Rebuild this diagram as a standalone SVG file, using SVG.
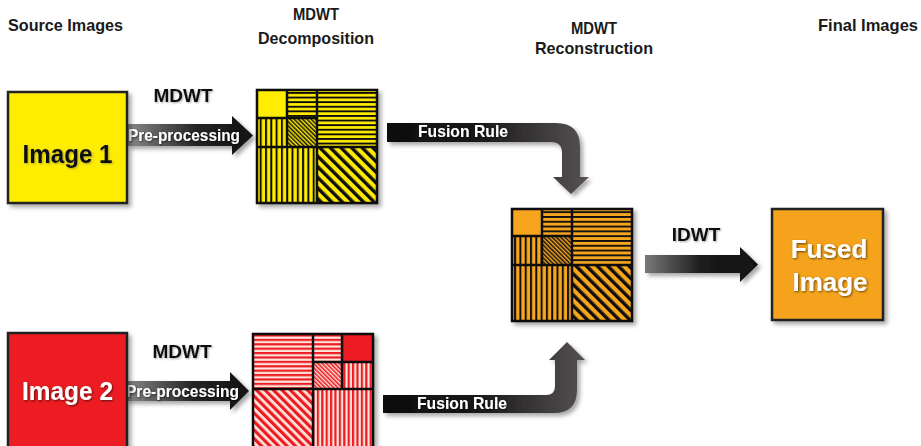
<svg xmlns="http://www.w3.org/2000/svg" width="921" height="446" viewBox="0 0 921 446">
  <style>
    .hdr { font-family: "Liberation Sans", Arial, sans-serif; font-weight: bold; font-size: 17px; fill: #1a1a1a; }
    .lbl { font-family: "Liberation Sans", Arial, sans-serif; font-weight: bold; font-size: 19px; fill: #111; }
    .atx { font-family: "Liberation Sans", Arial, sans-serif; font-weight: bold; font-size: 16.5px; fill: #fff; }
    .big { font-family: "Liberation Sans", Arial, sans-serif; font-weight: bold; font-size: 26px; }
    .box { stroke: #222; stroke-width: 2.5; }
    .grid { fill: none; stroke: #111; stroke-width: 2.5; }
  </style>
  <defs>
    <filter id="shadow" x="-20%" y="-20%" width="150%" height="150%">
      <feDropShadow dx="3" dy="3" stdDeviation="2" flood-color="#000" flood-opacity="0.35"/>
    </filter>
    <filter id="tshadow" x="-10%" y="-20%" width="130%" height="150%">
      <feDropShadow dx="1" dy="1" stdDeviation="1" flood-color="#000" flood-opacity="0.6"/>
    </filter>
    <filter id="tglow" x="-10%" y="-20%" width="130%" height="150%">
      <feDropShadow dx="1" dy="1" stdDeviation="1" flood-color="#555" flood-opacity="0.5"/>
    </filter>

    <!-- yellow / black hatches -->
    <pattern id="yH" patternUnits="userSpaceOnUse" width="10" height="4.6">
      <rect width="10" height="4.6" fill="#FFEB00"/><rect y="0" width="10" height="1.9" fill="#111"/>
    </pattern>
    <pattern id="yV" patternUnits="userSpaceOnUse" width="5.3" height="10">
      <rect width="5.3" height="10" fill="#FFEB00"/><rect x="0" width="2" height="10" fill="#111"/>
    </pattern>
    <pattern id="yD" patternUnits="userSpaceOnUse" width="7.5" height="10" patternTransform="rotate(-45)">
      <rect width="7.5" height="10" fill="#FFEB00"/><rect width="3.4" height="10" fill="#111"/>
    </pattern>
    <pattern id="yF" patternUnits="userSpaceOnUse" width="3" height="10" patternTransform="rotate(-45)">
      <rect width="3" height="10" fill="#FFEB00"/><rect width="1.5" height="10" fill="#111"/>
    </pattern>

    <!-- orange / black hatches -->
    <pattern id="oH" patternUnits="userSpaceOnUse" width="10" height="4.8">
      <rect width="10" height="4.8" fill="#F7A51E"/><rect width="10" height="1.9" fill="#111"/>
    </pattern>
    <pattern id="oV" patternUnits="userSpaceOnUse" width="5.3" height="10">
      <rect width="5.3" height="10" fill="#F7A51E"/><rect width="2" height="10" fill="#111"/>
    </pattern>
    <pattern id="oD" patternUnits="userSpaceOnUse" width="7.5" height="10" patternTransform="rotate(-45)">
      <rect width="7.5" height="10" fill="#F7A51E"/><rect width="3.4" height="10" fill="#111"/>
    </pattern>
    <pattern id="oF" patternUnits="userSpaceOnUse" width="3" height="10" patternTransform="rotate(-45)">
      <rect width="3" height="10" fill="#F7A51E"/><rect width="1.5" height="10" fill="#111"/>
    </pattern>

    <!-- red / white hatches -->
    <pattern id="rH" patternUnits="userSpaceOnUse" width="10" height="4.4">
      <rect width="10" height="4.4" fill="#FFE4DC"/><rect width="10" height="2.2" fill="#EC1C24"/>
    </pattern>
    <pattern id="rV" patternUnits="userSpaceOnUse" width="4.4" height="10">
      <rect width="4.4" height="10" fill="#FFE4DC"/><rect width="2.2" height="10" fill="#EC1C24"/>
    </pattern>
    <pattern id="rD" patternUnits="userSpaceOnUse" width="6" height="10" patternTransform="rotate(-45)">
      <rect width="6" height="10" fill="#FFE4DC"/><rect width="3.2" height="10" fill="#EC1C24"/>
    </pattern>
    <pattern id="rF" patternUnits="userSpaceOnUse" width="3" height="10" patternTransform="rotate(-45)">
      <rect width="3" height="10" fill="#FFE4DC"/><rect width="1.6" height="10" fill="#EC1C24"/>
    </pattern>

    <!-- arrow fills -->
    <linearGradient id="gPre1" gradientUnits="userSpaceOnUse" x1="127" y1="0" x2="253" y2="0">
      <stop offset="0" stop-color="#8c8a8a"/><stop offset="0.55" stop-color="#262424"/><stop offset="1" stop-color="#111"/>
    </linearGradient>
    <linearGradient id="gPre2" gradientUnits="userSpaceOnUse" x1="125" y1="0" x2="249" y2="0">
      <stop offset="0" stop-color="#8c8a8a"/><stop offset="0.55" stop-color="#262424"/><stop offset="1" stop-color="#111"/>
    </linearGradient>
    <linearGradient id="gFus" gradientUnits="userSpaceOnUse" x1="387" y1="0" x2="590" y2="0">
      <stop offset="0" stop-color="#0e0e0e"/><stop offset="0.45" stop-color="#1a1919"/><stop offset="1" stop-color="#575353"/>
    </linearGradient>
    <linearGradient id="gIdwt" gradientUnits="userSpaceOnUse" x1="645" y1="0" x2="758" y2="0">
      <stop offset="0" stop-color="#7a7878"/><stop offset="0.5" stop-color="#1c1b1b"/><stop offset="1" stop-color="#111"/>
    </linearGradient>
  </defs>

  <!-- column headings -->
  <g id="headings">
    <text class="hdr" x="8" y="31" textLength="115" lengthAdjust="spacingAndGlyphs">Source Images</text>
    <text class="hdr" x="316" y="20" text-anchor="middle" textLength="46" lengthAdjust="spacingAndGlyphs">MDWT</text>
    <text class="hdr" x="316" y="44" text-anchor="middle" textLength="116" lengthAdjust="spacingAndGlyphs">Decomposition</text>
    <text class="hdr" x="594" y="34" text-anchor="middle" textLength="46" lengthAdjust="spacingAndGlyphs">MDWT</text>
    <text class="hdr" x="594" y="54" text-anchor="middle" textLength="118" lengthAdjust="spacingAndGlyphs">Reconstruction</text>
    <text class="hdr" x="818" y="31" textLength="100" lengthAdjust="spacingAndGlyphs">Final Images</text>
  </g>

  <!-- connectors -->
  <g id="connectors">
    <g id="pre1">
      <path d="M127,124 H232 V116 L253,135.5 L232,155 V146 H127 Z" fill="url(#gPre1)" filter="url(#shadow)"/>
      <text class="atx" x="128" y="141" textLength="112" lengthAdjust="spacingAndGlyphs" filter="url(#tshadow)">Pre-processing</text>
      <text class="lbl" x="183" y="102" text-anchor="middle" filter="url(#tglow)">MDWT</text>
    </g>
    <g id="pre2">
      <path d="M125,381 H230 V372 L249,391 L230,410 V401 H125 Z" fill="url(#gPre2)" filter="url(#shadow)"/>
      <text class="atx" x="126" y="397" textLength="113" lengthAdjust="spacingAndGlyphs" filter="url(#tshadow)">Pre-processing</text>
      <text class="lbl" x="182" y="358" text-anchor="middle" filter="url(#tglow)">MDWT</text>
    </g>
    <g id="fusion1">
      <path d="M387,123 H556 Q580,123 580,147 V177 H589 L571,194 L553,177 H562 V153 Q562,142 551,142 H387 Z" fill="url(#gFus)" filter="url(#shadow)"/>
      <text class="atx" x="418" y="137" textLength="90" lengthAdjust="spacingAndGlyphs" filter="url(#tshadow)">Fusion Rule</text>
    </g>
    <g id="fusion2">
      <path d="M383,395 H546 Q555,395 555,386 V360 H549 L567,342 L585,360 H577 V390 Q577,413 554,413 H383 Z" fill="url(#gFus)" filter="url(#shadow)"/>
      <text class="atx" x="417" y="409" textLength="90" lengthAdjust="spacingAndGlyphs" filter="url(#tshadow)">Fusion Rule</text>
    </g>
    <g id="idwt">
      <path d="M645,255 H740 V247 L758,264.5 L740,282 V273 H645 Z" fill="url(#gIdwt)" filter="url(#shadow)"/>
      <text class="lbl" x="696" y="241" text-anchor="middle" filter="url(#tglow)">IDWT</text>
    </g>
  </g>

  <!-- source images -->
  <g id="image1">
    <rect class="box" x="8" y="92" width="119" height="111" fill="#FFED00" filter="url(#shadow)"/>
    <text class="big" x="67.5" y="163" text-anchor="middle" fill="#111" textLength="90" lengthAdjust="spacingAndGlyphs" filter="url(#tglow)">Image 1</text>
  </g>
  <g id="image2">
    <rect class="box" x="8" y="333" width="119" height="116" fill="#EC1C24" filter="url(#shadow)"/>
    <text class="big" x="67.5" y="400" text-anchor="middle" fill="#fff" textLength="91" lengthAdjust="spacingAndGlyphs" filter="url(#tshadow)">Image 2</text>
  </g>

  <!-- decomposition of image 1 -->
  <g id="decomp1" filter="url(#shadow)">
    <rect x="257" y="90" width="30" height="28" fill="#FFED00"/>
    <rect x="287" y="90" width="30" height="28" fill="url(#yH)"/>
    <rect x="257" y="118" width="30" height="29" fill="url(#yV)"/>
    <rect x="287" y="118" width="30" height="29" fill="url(#yF)"/>
    <rect x="317" y="90" width="60" height="57" fill="url(#yH)"/>
    <rect x="257" y="147" width="60" height="56" fill="url(#yV)"/>
    <rect x="317" y="147" width="60" height="56" fill="url(#yD)"/>
    <path class="grid" d="M257,90 H377 V203 H257 Z M317,90 V203 M257,147 H377 M287,90 V147 M257,118 H317"/>
  </g>

  <!-- decomposition of image 2 -->
  <g id="decomp2" filter="url(#shadow)">
    <rect x="253" y="334" width="60" height="55" fill="url(#rH)"/>
    <rect x="313" y="334" width="29" height="28" fill="url(#rH)"/>
    <rect x="342" y="334" width="31" height="28" fill="#EC1C24"/>
    <rect x="313" y="362" width="29" height="27" fill="url(#rF)"/>
    <rect x="342" y="362" width="31" height="27" fill="url(#rV)"/>
    <rect x="253" y="389" width="60" height="58" fill="url(#rD)"/>
    <rect x="313" y="389" width="60" height="58" fill="url(#rV)"/>
    <path class="grid" d="M253,447 V334 H373 V447 M313,334 V447 M253,389 H373 M342,334 V389 M313,362 H373"/>
  </g>

  <!-- fused decomposition -->
  <g id="fused-decomp" filter="url(#shadow)">
    <rect x="512" y="209" width="30" height="27" fill="#F7A51E"/>
    <rect x="542" y="209" width="30" height="27" fill="url(#oH)"/>
    <rect x="512" y="236" width="30" height="29" fill="url(#oV)"/>
    <rect x="542" y="236" width="30" height="29" fill="url(#oF)"/>
    <rect x="572" y="209" width="60" height="56" fill="url(#oH)"/>
    <rect x="512" y="265" width="60" height="56" fill="url(#oV)"/>
    <rect x="572" y="265" width="60" height="56" fill="url(#oD)"/>
    <path class="grid" d="M512,209 H632 V321 H512 Z M572,209 V321 M512,265 H632 M542,209 V265 M512,236 H572"/>
  </g>

  <!-- final fused image -->
  <g id="fused-image">
    <rect class="box" x="772" y="209" width="111" height="111" fill="#F5A31E" filter="url(#shadow)"/>
    <text class="big" x="829" y="258" text-anchor="middle" fill="#fff" font-size="24" filter="url(#tshadow)">Fused</text>
    <text class="big" x="830" y="291" text-anchor="middle" fill="#fff" font-size="24" filter="url(#tshadow)">Image</text>
  </g>
</svg>
